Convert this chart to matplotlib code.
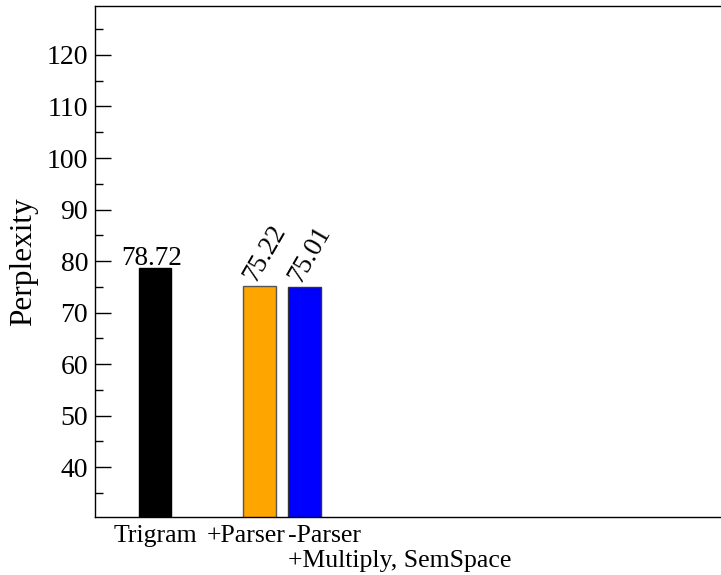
import matplotlib
matplotlib.use('Agg')
import matplotlib.pyplot as plt
import matplotlib.transforms as mtransforms

# Data
labels = ['Trigram', '+Parser', '-Parser\n+Multiply, SemSpace']
perplexity = [78.72, 75.22, 75.01]
positions = [0.0, 2.337, 3.337]
colors = ['black', 'orange', 'blue']
edges = ['black', '#555555', '#333333']

plt.rcParams['font.family'] = ['Liberation Serif', 'DejaVu Serif']

fig = plt.figure(figsize=(7.21, 5.75), dpi=100)
# right spine sits just outside the picture, as in the original
ax = fig.add_axes([95 / 721, 58.3 / 575, 632 / 721, 510.7 / 575])

width = 0.725
bars = ax.bar(positions, perplexity, width=width, color=colors,
              edgecolor=edges, linewidth=1.0)

ax.set_xlim(-1.339, 12.77)
ax.set_ylim(30.4, 129.5)

ax.set_yticks(range(40, 121, 10))
ax.set_yticks(range(35, 126, 10), minor=True)
ax.tick_params(axis='y', which='major', direction='in', length=11.3,
               width=1.0, labelsize=20, pad=5)
ax.tick_params(axis='y', which='minor', direction='in', length=5.8, width=1.0)
ax.set_xticks([])
for s in ax.spines.values():
    s.set_linewidth(1.0)

ax.set_ylabel('Perplexity', fontsize=22.5, labelpad=6)

# value labels
ax.text(positions[0], perplexity[0], f'{perplexity[0]:.2f}', ha='center',
        va='baseline', fontsize=19.5,
        transform=ax.transData + mtransforms.ScaledTranslation(-3 / 100, 3 / 100, fig.dpi_scale_trans))
for x, v in zip(positions[1:], perplexity[1:]):
    ax.text(x - width / 2, v, f'{v:.2f}', ha='left', va='baseline',
            rotation=60, rotation_mode='anchor', fontsize=19.5,
            transform=ax.transData + mtransforms.ScaledTranslation(12 / 100, 3 / 100, fig.dpi_scale_trans))

# category labels under the axis
xform = mtransforms.blended_transform_factory(ax.transData, ax.transAxes)
off = mtransforms.ScaledTranslation(0, -8 / 100, fig.dpi_scale_trans)
ax.text(positions[0], 0, labels[0], ha='center', va='top', fontsize=18.5,
        transform=xform + off)
ax.text(positions[2] - width / 2, 0, labels[1], ha='right', va='top',
        fontsize=18.5,
        transform=xform + off + mtransforms.ScaledTranslation(-3 / 100, 0, fig.dpi_scale_trans))
ax.text(positions[2] - width / 2, 0, labels[2], ha='left', va='top',
        fontsize=18.5, linespacing=1.2, transform=xform + off)

fig.savefig('out.png', dpi=100)
